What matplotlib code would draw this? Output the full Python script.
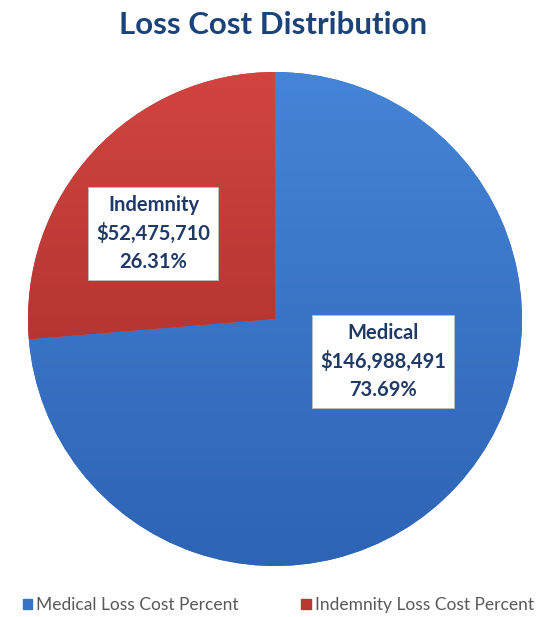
import numpy as np
import matplotlib
matplotlib.use("Agg")
from matplotlib import pyplot as plt

# loss cost data
categories = ["Medical", "Indemnity"]
legend_labels = ["Medical Loss Cost Percent", "Indemnity Loss Cost Percent"]
amounts = [146988491, 52475710]
percents = ["73.69%", "26.31%"]

# top / bottom shades for each slice
tops = [(0.27, 0.52, 0.84), (0.82, 0.27, 0.25)]
bottoms = [(0.18, 0.39, 0.71), (0.62, 0.16, 0.15)]
mids = [tuple((np.array(t) + np.array(b)) / 2) for t, b in zip(tops, bottoms)]

plt.rcParams['font.family'] = ['Lato', 'DejaVu Sans']

fig = plt.figure(figsize=(5.46, 6.17), dpi=100)
fig.patch.set_facecolor("white")

ax = fig.add_axes([28 / 546, 51 / 617, 494 / 546, 494 / 617])
wedges, _ = ax.pie(amounts, startangle=90, counterclock=False, colors=mids,
                   radius=1, wedgeprops=dict(linewidth=0))
ax.set_xlim(-1, 1)
ax.set_ylim(-1, 1)
ax.set_aspect("equal")
ax.axis("off")

# vertical gradient fill clipped to each wedge
n = 256
for w, t, b in zip(wedges, tops, bottoms):
    frac = np.linspace(0, 1, n)[:, None, None]
    grad = np.array(t)[None, None, :] * (1 - frac) + np.array(b)[None, None, :] * frac
    img = ax.imshow(grad, extent=[-1, 1, -1, 1], origin="upper", aspect="auto", zorder=2)
    img.set_clip_path(w)

# value labels in white boxes
label_pos = [(0.437, -0.172), (-0.492, 0.346)]
for (x, y), name, amt, pct in zip(label_pos, categories, amounts, percents):
    ax.text(x, y, f"{name}\n${amt:,}\n{pct}", ha="center", va="center",
            fontsize=14.5, fontweight="bold", color="#1F3A66", linespacing=1.5,
            zorder=5,
            bbox=dict(boxstyle="square,pad=0.4", facecolor="white",
                      edgecolor="#BFBFBF", linewidth=0.6))

fig.text(0.5, 1 - 25 / 617, "Loss Cost Distribution", ha="center", va="center",
         fontsize=22.5, fontweight="bold", color="#1B4279")

handles = [plt.Rectangle((0, 0), 1, 1, color=c) for c in mids]
fig.legend(handles, legend_labels, loc="center", bbox_to_anchor=(0.51, 1 - 605 / 617),
           ncol=2, frameon=False, fontsize=12.5, labelcolor="#595959",
           handlelength=0.55, handleheight=0.55, handletextpad=0.25, columnspacing=3.6)

fig.savefig("out.png", dpi=100, facecolor="white")
